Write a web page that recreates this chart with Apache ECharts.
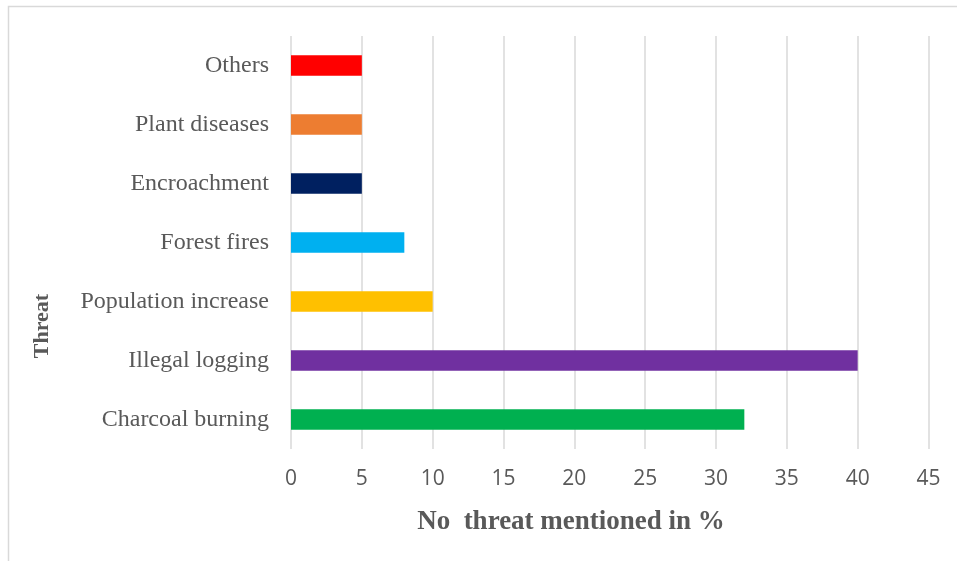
<!DOCTYPE html>
<html>
<head>
<meta charset="utf-8">
<script src="https://cdn.jsdelivr.net/npm/echarts@6/dist/echarts.min.js"></script>
<style>html,body{margin:0;padding:0;background:#fff}#c{width:957px;height:561px}</style>
</head>
<body>
<div id="c"></div>
<script>
const categories = ['Charcoal burning','Illegal logging','Population increase','Forest fires','Encroachment','Plant diseases','Others'];
const values = [32, 40, 10, 8, 5, 5, 5];
const colors = ['#00b050','#7030a0','#ffc000','#00b0f0','#002060','#ed7d31','#ff0000'];
const xTicks = [0,5,10,15,20,25,30,35,40,45];
const xTitle = 'No  threat mentioned in %';
const yTitle = 'Threat';

const chart = echarts.init(document.getElementById('c'), null, {renderer:'canvas'});
chart.setOption({
  animation:false,
  backgroundColor:'#fff',
  grid:{left:291, right:28.5, top:36, height:413, containLabel:false},
  xAxis:{
    type:'value', min:xTicks[0], max:xTicks[xTicks.length-1], interval:5,
    axisLine:{show:false}, axisTick:{show:false},
    splitLine:{show:true, lineStyle:{color:'#d9d9d9', width:1.5}},
    axisLabel:{color:'#595959', fontSize:21, fontFamily:'Open Sans', margin:20}
  },
  yAxis:{
    type:'category', data:categories,
    axisLine:{show:false}, axisTick:{show:false},
    axisLabel:{color:'#595959', fontSize:24, fontFamily:'Liberation Serif', margin:22}
  },
  series:[{
    type:'bar', barWidth:'35%',
    data: values.map((v,i)=>({value:v, itemStyle:{color:colors[i]}}))
  }],
  graphic:[
    {type:'rect', shape:{x:8.5, y:6.5, width:1000, height:1000}, style:{fill:'none', stroke:'#d9d9d9', lineWidth:1.5}, silent:true, z:-1},
    {type:'text', x:571, y:522, style:{text:xTitle, fill:'#595959', font:'bold 27px "Liberation Serif"', align:'center', verticalAlign:'middle'}},
    {type:'text', x:42, y:326, rotation:Math.PI/2, style:{text:yTitle, fill:'#595959', font:'bold 22px "Liberation Serif"', align:'center', verticalAlign:'middle'}}
  ]
});
</script>
</body>
</html>
